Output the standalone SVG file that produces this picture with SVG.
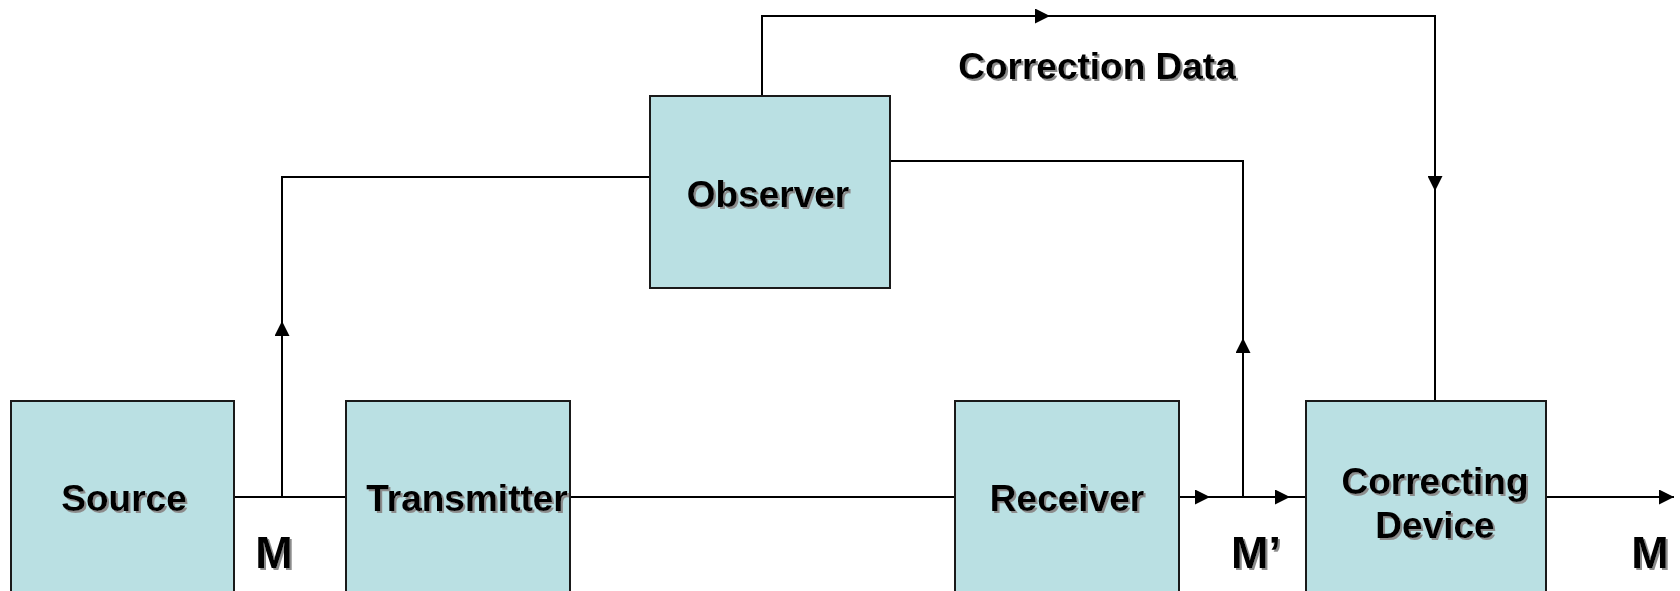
<svg xmlns="http://www.w3.org/2000/svg" width="1680" height="591" viewBox="0 0 1680 591">
  <style>
    .box { fill: #bae0e3; stroke: #1a1a1a; stroke-width: 2; }
    .wire { fill: none; stroke: #000; stroke-width: 2; }
    .lbl { font-family: "Liberation Sans", Arial, sans-serif; font-weight: bold; font-size: 37px; fill: #000; text-anchor: middle; filter: url(#shadow); }
    .sig { font-size: 45px; }
  </style>
  <defs>
    <filter id="shadow" x="-10%" y="-20%" width="130%" height="160%">
      <feDropShadow dx="2" dy="2" stdDeviation="0.6" flood-color="#8c8c8c" flood-opacity="1"/>
    </filter>
    <marker id="arrow" viewBox="0 0 15 15" refX="15" refY="7.5" markerWidth="15" markerHeight="15" markerUnits="userSpaceOnUse" orient="auto">
      <path d="M0,0 L15,7.5 L0,15 Z" fill="#000"/>
    </marker>
  </defs>

  <!-- signal paths -->
  <g id="connectors">
    <!-- source to transmitter, transmitter to receiver -->
    <line class="wire" x1="233" y1="497" x2="346" y2="497"/>
    <line class="wire" x1="570" y1="497" x2="955" y2="497"/>
    <!-- tap to observer input -->
    <line class="wire" x1="282" y1="497" x2="282" y2="321" marker-end="url(#arrow)"/>
    <polyline class="wire" points="282,322 282,177 650,177"/>
    <!-- receiver out to correcting device -->
    <line class="wire" x1="1179" y1="497" x2="1210" y2="497" marker-end="url(#arrow)"/>
    <line class="wire" x1="1209" y1="497" x2="1290" y2="497" marker-end="url(#arrow)"/>
    <line class="wire" x1="1289" y1="497" x2="1306" y2="497"/>
    <!-- tap of M' to observer -->
    <line class="wire" x1="1243" y1="497" x2="1243" y2="338" marker-end="url(#arrow)"/>
    <polyline class="wire" points="1243,339 1243,161 890,161"/>
    <!-- correction data path -->
    <polyline class="wire" points="762,96 762,16 1050,16" marker-end="url(#arrow)"/>
    <polyline class="wire" points="1049,16 1435,16 1435,191" marker-end="url(#arrow)"/>
    <line class="wire" x1="1435" y1="190" x2="1435" y2="401"/>
    <!-- output -->
    <line class="wire" x1="1546" y1="497" x2="1674" y2="497" marker-end="url(#arrow)"/>
  </g>

  <g id="source">
    <rect class="box" x="11" y="401" width="223" height="200"/>
    <text class="lbl" x="124" y="511">Source</text>
  </g>

  <g id="transmitter">
    <rect class="box" x="346" y="401" width="224" height="200"/>
    <text class="lbl" x="467" y="511">Transmitter</text>
  </g>

  <g id="receiver">
    <rect class="box" x="955" y="401" width="224" height="200"/>
    <text class="lbl" x="1067" y="511">Receiver</text>
  </g>

  <g id="correcting-device">
    <rect class="box" x="1306" y="401" width="240" height="200"/>
    <text class="lbl" x="1435" y="494">Correcting</text>
    <text class="lbl" x="1435" y="538">Device</text>
  </g>

  <g id="observer">
    <rect class="box" x="650" y="96" width="240" height="192"/>
    <text class="lbl" x="768" y="207">Observer</text>
  </g>

  <g id="labels">
    <text class="lbl" x="1097" y="79">Correction Data</text>
    <text class="lbl sig" x="274" y="568">M</text>
    <text class="lbl sig" x="1256" y="568">M’</text>
    <text class="lbl sig" x="1650" y="568">M</text>
  </g>
</svg>
